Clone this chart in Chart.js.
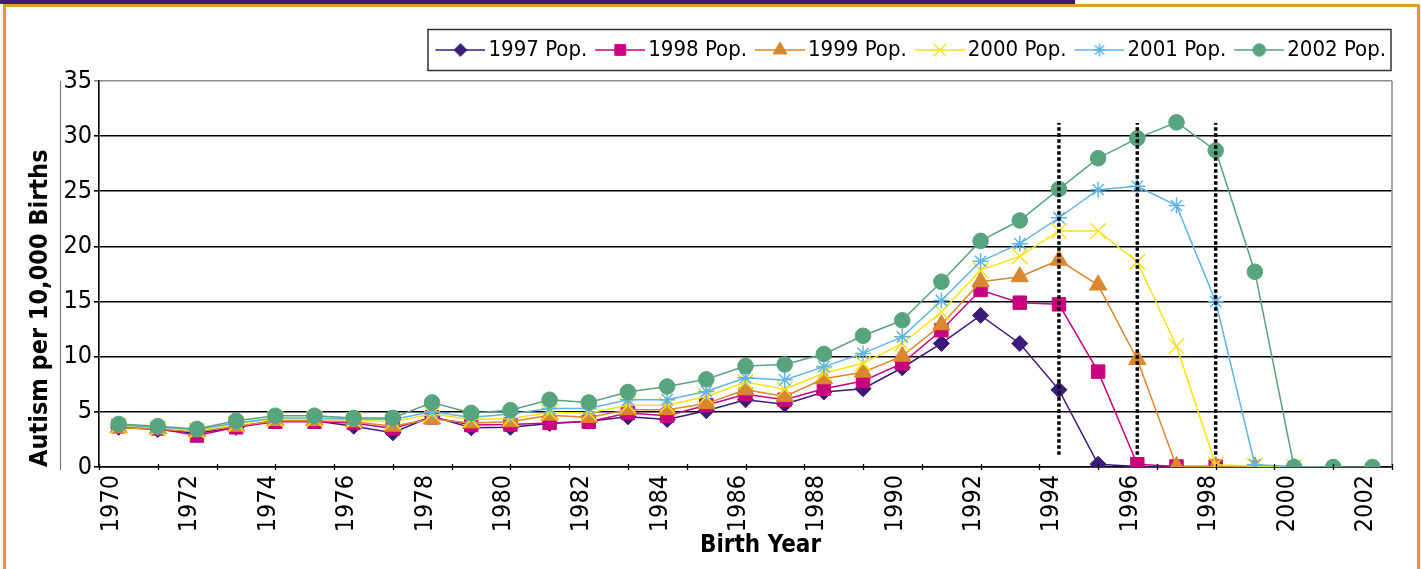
<!DOCTYPE html>
<html>
<head>
<meta charset="utf-8">
<script src="https://cdn.jsdelivr.net/npm/chart.js@4.4.1/dist/chart.umd.min.js"></script>
<style>
html,body{margin:0;padding:0;background:#fff;}
#wrap{position:relative;width:1421px;height:569px;overflow:hidden;background:#fff;}
#topbar{position:absolute;left:0;top:0;width:1075px;height:4px;background:#3d1a78;}
#frame{position:absolute;left:3px;top:4px;width:1417px;height:620px;border:3px solid #e29b2c;border-bottom:none;box-sizing:border-box;}
#c{position:absolute;left:0;top:0;}
</style>
</head>
<body>
<div id="wrap">
  <div id="frame"></div>
  <div id="topbar"></div>
  <canvas id="c" width="1421" height="569"></canvas>
</div>
<script>
// ---- data ----
const years = [1970,1971,1972,1973,1974,1975,1976,1977,1978,1979,1980,1981,1982,1983,1984,1985,1986,1987,1988,1989,1990,1991,1992,1993,1994,1995,1996,1997,1998,1999,2000,2001,2002];
const xTickLabels = [1970,1972,1974,1976,1978,1980,1982,1984,1986,1988,1990,1992,1994,1996,1998,2000,2002];
const yTicks = [0,5,10,15,20,25,30,35];
const seriesNames = ['1997 Pop.','1998 Pop.','1999 Pop.','2000 Pop.','2001 Pop.','2002 Pop.'];

const pop1997 = [3.6,3.4,3.05,3.6,4.2,4.2,3.7,3.1,4.6,3.55, 3.6,3.95,4.15,4.55,4.3,5.1,6.1,5.7,6.8,7.1, 9.0,11.2,13.75,11.2,7.0,0.25,0.05,0];
const pop1998 = [3.7,3.5,2.85,3.6,4.1,4.1,4.0,3.5,4.5,3.8, 3.85,4.0,4.1,4.9,4.65,5.6,6.6,6.1,7.1,7.8, 9.4,12.4,16.05,14.9,14.75,8.65,0.25,0.05,0.05];
const pop1999 = [3.55,3.45,3.2,3.7,4.2,4.2,4.1,3.7,4.35,4.0, 4.1,4.7,4.5,5.2,5.2,5.75,7.0,6.4,8.0,8.6, 10.05,12.9,16.8,17.25,18.75,16.5,9.75,0.05,0.05,0];
const pop2000 = [3.75,3.55,3.3,3.9,4.35,4.35,4.25,4.1,4.8,4.3, 4.4,4.95,4.9,5.6,5.6,6.4,7.7,7.05,8.5,9.4, 11.2,14.05,17.85,19.1,21.4,21.4,18.6,10.95,0.2,0.1,0];
const pop2001 = [3.8,3.6,3.4,4.0,4.45,4.45,4.35,4.3,5.0,4.5, 4.8,5.3,5.3,6.1,6.1,6.85,8.1,7.9,9.1,10.3, 11.8,15.1,18.65,20.25,22.6,25.15,25.45,23.7,15.0,0.2,0.05,0];
const pop2002 = [3.9,3.7,3.45,4.2,4.65,4.65,4.45,4.45,5.85,4.9, 5.15,6.1,5.85,6.8,7.3,7.95,9.15,9.3,10.25,11.9, 13.3,16.8,20.5,22.35,25.2,28.0,29.8,31.25,28.7,17.7,0,0,0];

const cutoffYears = [1994,1996,1998];
const cutoffRange = [1.1,31.2];

// ---- styles ----
const FONT = "'Liberation Sans Narrow','DejaVu Sans Condensed','Arial Narrow',sans-serif";
const styles = [
  {color:'#3b1a7b', pointStyle:'rectRot', radius:8, fill:true},
  {color:'#c9037d', pointStyle:'rect', radius:9.5, fill:true},
  {color:'#d9882f', pointStyle:'triangle', radius:10, fill:true},
  {color:'#f5e21c', pointStyle:'crossRot', radius:11, fill:false},
  {color:'#62b4e4', pointStyle:'star', radius:8, fill:false},
  {color:'#58a47f', pointStyle:'circle', radius:7.8, fill:true}
];
const seriesValues = [pop1997,pop1998,pop1999,pop2000,pop2001,pop2002];

function makeIcon(st){
  const c = document.createElement('canvas');
  c.width = 60; c.height = 26;
  const g = c.getContext('2d');
  g.strokeStyle = st.color; g.lineWidth = 1.5;
  g.beginPath(); g.moveTo(10,13); g.lineTo(60,13); g.stroke();
  g.fillStyle = st.color; g.strokeStyle = st.color; g.lineWidth = st.fill ? 1 : 1.5;
  Chart.helpers.drawPoint(g, {pointStyle: st.pointStyle, radius: st.radius*0.8, borderWidth: g.lineWidth, rotation:0}, 35, 13);
  return c;
}

const datasets = seriesValues.map((vals,i)=>{
  const st = styles[i];
  return {
    label: seriesNames[i],
    data: vals.map((v,j)=>({x:years[j], y:v})),
    borderColor: st.color,
    backgroundColor: st.fill ? st.color : 'rgba(0,0,0,0)',
    pointBorderColor: st.color,
    pointBackgroundColor: st.fill ? st.color : 'rgba(0,0,0,0)',
    pointStyle: st.pointStyle,
    pointRadius: st.radius,
    pointBorderWidth: st.fill ? 1 : 1.5,
    borderWidth: 1.5,
    tension: 0,
    order: 6 - i,
    icon: makeIcon(st)
  };
});
cutoffYears.forEach(yr=>{
  datasets.push({
    label: 'cutoff',
    isCutoff: true,
    data: cutoffRange.map(v=>({x:yr, y:v})),
    borderColor:'#000',
    borderWidth:3.5,
    borderDash:[3.5,2.5],
    pointRadius:0,
    order:0
  });
});

const decor = {
  id:'decor',
  beforeDatasetsDraw(chart){
    const {ctx, chartArea:a} = chart;
    ctx.save();
    ctx.strokeStyle = '#8c8c8c'; ctx.lineWidth = 1.5;
    ctx.beginPath(); ctx.moveTo(a.right, a.top); ctx.lineTo(a.right, a.bottom); ctx.stroke();
    ctx.restore();
  },
  afterDraw(chart){
    const {ctx, chartArea:a} = chart;
    const xs = chart.scales.x;
    ctx.save();
    // category boundary tick marks on the x axis
    ctx.strokeStyle = '#000'; ctx.lineWidth = 1.3;
    for (let v = xs.min; v <= xs.max + 1e-6; v += 1.5){
      const px = Math.round(xs.getPixelForValue(v)) + 0.5;
      ctx.beginPath(); ctx.moveTo(px, a.bottom - 3); ctx.lineTo(px, a.bottom + 3); ctx.stroke();
    }
    // thin line at left of y labels
    ctx.strokeStyle = '#7a7a7a'; ctx.lineWidth = 1.2;
    ctx.beginPath(); ctx.moveTo(60.5, a.top); ctx.lineTo(60.5, a.bottom + 3); ctx.stroke();
    // legend frame
    const hb = chart.legend.legendHitBoxes;
    if (hb && hb.length){
      const first = hb[0], last = hb[hb.length-1];
      const cy = first.top + first.height/2;
      ctx.strokeStyle = '#333'; ctx.lineWidth = 1.5;
      ctx.strokeRect(first.left - 5.5, cy - 20.5, (last.left + last.width + 5) - (first.left - 5.5), 41);
    }
    ctx.restore();
  }
};

new Chart(document.getElementById('c'), {
  type:'line',
  data:{datasets},
  options:{
    responsive:false,
    devicePixelRatio:1,
    animation:false,
    layout:{padding:{left:0,right:29,top:33,bottom:0}},
    plugins:{
      tooltip:{enabled:false},
      legend:{
        display:true, position:'top', align:'end',
        labels:{
          usePointStyle:true, pointStyleWidth:44, padding:6,
          color:'#000', font:{family:FONT, size:22},
          generateLabels(chart){
            return chart.data.datasets.map((ds,i)=>({
              text: ds.label, pointStyle: ds.icon, datasetIndex:i, hidden:false,
              fontColor:'#000', lineWidth:0, strokeStyle:'rgba(0,0,0,0)', fillStyle:'rgba(0,0,0,0)'
            })).filter(it=>!chart.data.datasets[it.datasetIndex].isCutoff);
          }
        }
      }
    },
    scales:{
      x:{
        type:'linear', position:'bottom', min:1969.5, max:2002.5,
        afterBuildTicks(s){ s.ticks = xTickLabels.map(v=>({value:v})); },
        afterFit(s){ s.height = 102; },
        ticks:{autoSkip:false, minRotation:90, maxRotation:90, padding:8, labelOffset:-7,
               color:'#000', font:{family:FONT, size:25}, callback:(v)=>String(v)},
        grid:{display:false, drawTicks:false},
        border:{display:true, color:'#000', width:1.6},
        title:{display:true, text:'    Birth Year', color:'#000', font:{family:FONT, size:24, weight:'bold'}, padding:{top:0,bottom:9}}
      },
      xTop:{
        type:'linear', position:'top', display:true, min:1969.5, max:2002.5,
        grid:{display:false, drawTicks:false}, border:{display:false}, ticks:{display:false},
        afterFit(s){ s.height = 10; }
      },
      y:{
        type:'linear', min:0, max:35,
        afterBuildTicks(s){ s.ticks = yTicks.map(v=>({value:v})); },
        afterFit(s){ s.width = 99; },
        ticks:{padding:2, color:'#000', font:{family:FONT, size:25}},
        grid:{color:(c)=> c.tick && c.tick.value === 35 ? '#8c8c8c' : '#000', lineWidth:1.6, tickLength:5, drawTicks:true},
        border:{display:true, color:'#000', width:1.6},
        title:{display:true, text:'Autism per 10,000 Births', align:'start', color:'#000', font:{family:FONT, size:25, weight:'bold'}, padding:{top:25,bottom:0}}
      }
    }
  },
  plugins:[decor]
});
</script>
</body>
</html>
